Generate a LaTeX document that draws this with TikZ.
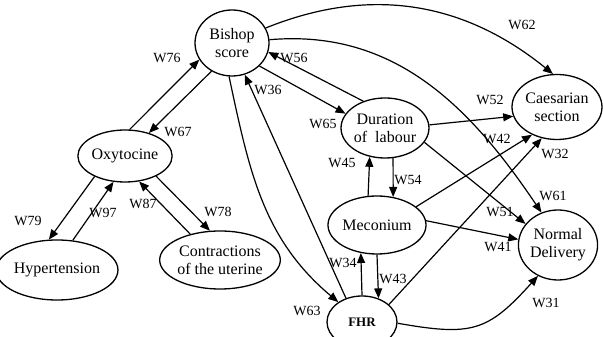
\documentclass[tikz,border=0pt]{standalone}
\usepackage{fontspec}
\setmainfont{Liberation Serif}
\usetikzlibrary{shapes.geometric,arrows.meta}

\begin{document}
\begin{tikzpicture}[x=1pt,y=1pt,
    factor/.style={draw, ellipse, line width=1.3pt, inner sep=0pt, align=center, font=\fontsize{16}{18}\selectfont},
    weight/.style={inner sep=0pt, font=\fontsize{14}{16}\selectfont},
    link/.style={line width=1.2pt, -{Triangle[length=10pt,width=8pt]}}]

    % 1. Nền trắng cho toàn bộ hình 603x337
    \useasboundingbox (0,0) rectangle (603,337);
    \fill [white] (0,0) rectangle (603,337);

    % 2. Các nút (hình elip)
    \node[factor, minimum width=74pt, minimum height=66pt] (bishop) at (232,294) {Bishop\\score};
    \node[factor, minimum width=86pt, minimum height=52pt] (oxy) at (125,181) {Oxytocine};
    \node[factor, minimum width=101pt, minimum height=60pt] (hyper) at (57,67) {Hypertension};
    \node[factor, minimum width=114pt, minimum height=58pt] (contr) at (220,77) {Contractions\\of the uterine};
    \node[factor, minimum width=84pt, minimum height=60pt] (dur) at (385,209) {Duration\\of\ \ labour};
    \node[factor, minimum width=90pt, minimum height=65pt] (caes) at (557,230) {Caesarian\\section};
    \node[factor, minimum width=84pt, minimum height=58pt] (mec) at (377,112) {Meconium};
    \node[factor, minimum width=74pt, minimum height=70pt] (normal) at (558,92) {Normal\\Delivery};
    \node[factor, minimum width=70pt, minimum height=52pt, font=\fontsize{13}{15}\selectfont\bfseries] (fhr) at (362,15) {FHR};

    % 3. Các mũi tên
    \draw[link] (oxy.80) -- (bishop.-153);
    \draw[link] (bishop.-126) -- (oxy.44);
    \draw[link] (fhr.124) -- (bishop.-68);
    \draw[link] (bishop.-95) to[out=-78,in=140] (fhr.140);
    \draw[link] (dur.129) -- (bishop.-14);
    \draw[link] (bishop.-40) -- (dur.160);
    \draw[link] (bishop.24) to[out=22,in=141] (caes.97);
    \draw[link] (bishop.5) to[out=5,in=124] (normal.117);
    \draw[link] (dur.4) -- (caes.-168);
    \draw[link] (dur.-20) -- (normal.147);
    \draw[link] (mec.25) -- (caes.-132);
    \draw[link] (fhr.33) -- (caes.-116);
    \draw[link] (mec.5) -- (normal.172);
    \draw[link] (fhr.-2) to[out=-10,in=-132,looseness=1.3] (normal.-123);
    \draw[link] (mec.107) -- (dur.-118);
    \draw[link] (dur.-75) -- (mec.60);
    \draw[link] (fhr.north) -- (mec.-120);
    \draw[link] (mec.south) -- (fhr.55);
    \draw[link] (oxy.-146) -- (hyper.105);
    \draw[link] (hyper.62) -- (oxy.-114);
    \draw[link] (contr.139) -- (oxy.-61);
    \draw[link] (oxy.-33) -- (contr.109);

    % 4. Nhãn trọng số
    \node[weight] (l76) at (167,279) {W76};
    \node[weight] (l67) at (178,205) {W67};
    \node[weight] (l36) at (268,247) {W36};
    \node[weight] (l56) at (294,279) {W56};
    \node[weight] (l65) at (323,213) {W65};
    \node[weight] (l62) at (522,312) {W62};
    \node[weight] (l52) at (490,237) {W52};
    \node[weight] (l42) at (497,198) {W42};
    \node[weight] (l32) at (555,183) {W32};
    \node[weight] (l45) at (342,174) {W45};
    \node[weight] (l54) at (408,157) {W54};
    \node[weight] (l61) at (553,141) {W61};
    \node[weight] (l51) at (500,125) {W51};
    \node[weight] (l41) at (498,90) {W41};
    \node[weight] (l34) at (343,74) {W34};
    \node[weight] (l43) at (393,58) {W43};
    \node[weight] (l63) at (307,26) {W63};
    \node[weight] (l31) at (546,34) {W31};
    \node[weight] (l79) at (28,116) {W79};
    \node[weight] (l97) at (103,124) {W97};
    \node[weight] (l87) at (143,133) {W87};
    \node[weight] (l78) at (218,125) {W78};

\end{tikzpicture}
\end{document}
